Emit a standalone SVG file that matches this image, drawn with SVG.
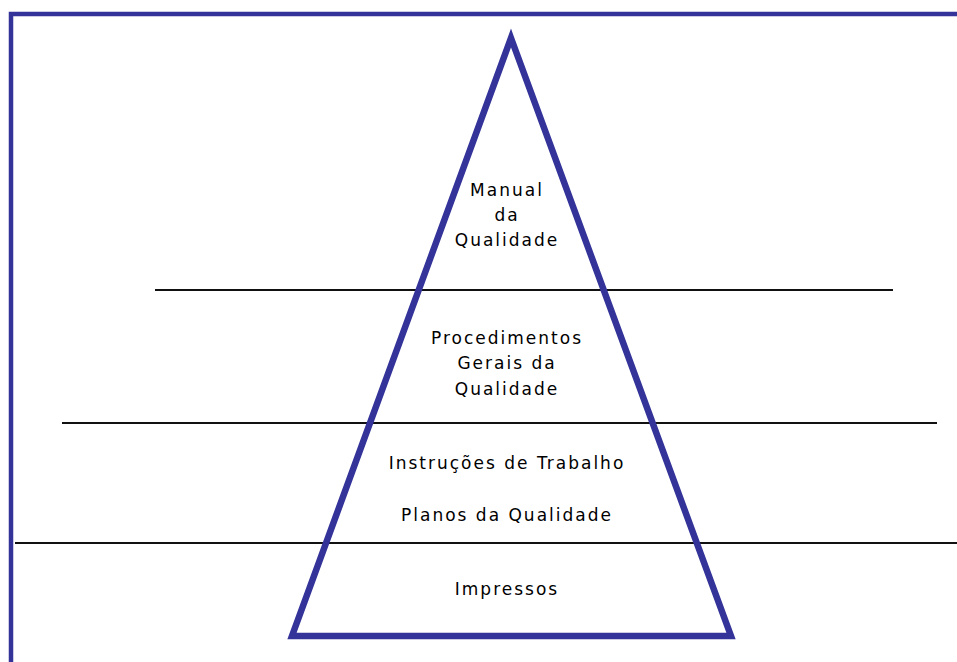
<svg xmlns="http://www.w3.org/2000/svg" width="957" height="662" viewBox="0 0 957 662">
<style>
.t{font-family:"DejaVu Sans","Verdana",sans-serif;font-size:17px;fill:#000;text-anchor:middle;letter-spacing:2px}
.sep{stroke:#111;stroke-width:1.8;fill:none}
</style>
<rect x="0" y="0" width="957" height="662" fill="#ffffff"/>
<g id="frame">
<path d="M11,662 V14 H957" fill="none" stroke="#333399" stroke-width="4.5"/>
</g>
<g id="connectors">
<line class="sep" x1="155" y1="290" x2="893" y2="290"/>
<line class="sep" x1="62" y1="423" x2="937" y2="423"/>
<line class="sep" x1="15" y1="543" x2="957" y2="543"/>
</g>
<g id="pyramid">
<polygon points="511,38 731,636 292,636" fill="none" stroke="#333399" stroke-width="6.5" stroke-linejoin="miter" stroke-miterlimit="10"/>
</g>
<g id="manual">
<text class="t" x="507" y="196">Manual</text>
<text class="t" x="507" y="221">da</text>
<text class="t" x="507" y="246">Qualidade</text>
</g>
<g id="procedimentos">
<text class="t" x="507" y="344">Procedimentos</text>
<text class="t" x="507" y="369">Gerais da</text>
<text class="t" x="507" y="395">Qualidade</text>
</g>
<g id="instrucoes">
<text class="t" x="507" y="469">Instruções de Trabalho</text>
<text class="t" x="507" y="521">Planos da Qualidade</text>
</g>
<g id="impressos">
<text class="t" x="507" y="595">Impressos</text>
</g>
</svg>
